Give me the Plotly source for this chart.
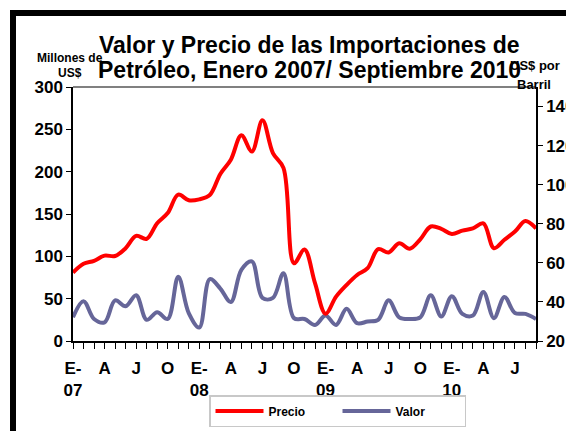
import plotly.graph_objects as go

months = [f"{m}-{y:02d}" for y in range(7, 11) for m in
          ["Ene", "Feb", "Mar", "Abr", "May", "Jun", "Jul", "Ago", "Sep", "Oct", "Nov", "Dic"]][:45]

precio = [55, 59.5, 61, 63.7, 63.5, 67.5, 73.8, 72.3, 80.3, 85.5, 94.9, 92,
          92.5, 94.7, 105.5, 112.8, 125.3, 117, 133, 116.2, 108.6, 59.8, 66.8, 49.6,
          34, 42.7, 48.7, 53.8, 57.3, 67, 65.3, 70, 67.2, 72, 78.6, 77.4,
          74.8, 76.5, 77.6, 80.2, 67.5, 71.8, 76, 81.4, 77.6]

valor = [28, 47, 26, 22, 48, 41, 54, 25, 34, 26, 76, 33,
         16, 73, 62, 46, 84, 94, 51, 51, 80, 27, 26, 19,
         30, 19, 38, 21, 23, 25, 48, 28, 26, 28, 54, 29,
         53, 32, 30, 58, 27, 52, 33, 32, 26]

tick_labels = ["E-<br>07", "A", "J", "O", "E-<br>08", "A", "J", "O",
               "E-<br>09", "A", "J", "O", "E-<br>10", "A", "J"]

ticktext = []
q = 0
for i in range(len(months)):
    if i % 3 == 0 and q < len(tick_labels):
        ticktext.append(tick_labels[q]); q += 1
    else:
        ticktext.append("")

FONT = "Liberation Sans, Arial, sans-serif"
NB = "\u00a0"

fig = go.Figure()
fig.add_trace(go.Scatter(x=months, y=valor, name="Valor", mode="lines",
                         line=dict(color="#666699", width=4, shape="spline", smoothing=1),
                         yaxis="y", legendrank=2))
fig.add_trace(go.Scatter(x=months, y=precio, name="Precio", mode="lines",
                         line=dict(color="#FF0000", width=4, shape="spline", smoothing=1),
                         yaxis="y2", legendrank=1))

OFF = 8  # page body margin
W, H = 574 - OFF, 431 - OFF
# plot area in page pixels
L, R, T, B = 73, 536, 87, 341
pw, ph = R - L, B - T
def px(xp): return (xp - L) / pw
def py(yp): return (B - yp) / ph

fig.update_layout(
    width=W, height=H,
    margin=dict(l=L - OFF, r=W - (R - OFF), t=T - OFF, b=H - (B - OFF), autoexpand=False),
    paper_bgcolor="white", plot_bgcolor="white",
    font=dict(family=FONT, color="black"),
    showlegend=True,
    legend=dict(orientation="h", x=px(209), y=py(395), xanchor="left", yanchor="top",
                bordercolor="#c8c8c8", borderwidth=1.5, bgcolor="white",
                font=dict(size=12, weight="bold", family=FONT),
                itemwidth=48, entrywidth=64, traceorder="normal"),
    xaxis=dict(type="category", range=[0, len(months) - 1], automargin=False,
               tickmode="array", tickvals=months, ticktext=ticktext,
               ticks="outside", ticklen=6, tickwidth=1.2, tickcolor="black",
               showline=True, linecolor="black", linewidth=1.5,
               showgrid=False, zeroline=False,
               tickfont=dict(size=17, weight="bold", family=FONT),
               ticklabelstandoff=5),
    yaxis=dict(range=[0, 300], tickvals=[0, 50, 100, 150, 200, 250, 300], automargin=False,
               ticks="outside", ticklen=5, tickwidth=1.2, tickcolor="black",
               showline=True, linecolor="black", linewidth=1.5,
               showgrid=False, zeroline=False, ticksuffix=NB * 2,
               tickfont=dict(size=17, weight="bold", family=FONT)),
    yaxis2=dict(range=[20, 150], tickvals=[20, 40, 60, 80, 100, 120, 140], automargin=False,
                overlaying="y", side="right", anchor="x",
                ticks="outside", ticklen=5, tickwidth=1.2, tickcolor="black",
                showline=True, linecolor="black", linewidth=1.5,
                showgrid=False, zeroline=False, tickprefix=NB,
                tickfont=dict(size=17, weight="bold", family=FONT)),
    yaxis3=dict(range=[20, 150], tickvals=[20, 40, 60, 80, 100, 120, 140], automargin=False,
                overlaying="y", side="right", anchor="x",
                ticks="inside", ticklen=5, tickwidth=1.2, tickcolor="black",
                showticklabels=False, showline=False, showgrid=False, zeroline=False),
)

# top border of plot area (gray)
fig.add_shape(type="line", xref="paper", yref="paper", x0=0, x1=1, y0=1, y1=1,
              line=dict(color="#808080", width=2))
# outer black frame
fig.add_shape(type="rect", xref="paper", yref="paper",
              x0=px(13), x1=px(700), y0=py(600), y1=py(13),
              line=dict(color="black", width=6), fillcolor="rgba(0,0,0,0)")

title_font = dict(size=23, weight="bold", family=FONT, color="black")
fig.add_annotation(text="Valor y Precio de las Importaciones de", xref="paper", yref="paper",
                   x=px(309), y=py(45), xanchor="center", yanchor="middle",
                   showarrow=False, font=title_font)
fig.add_annotation(text="Petróleo, Enero 2007/ Septiembre 2010", xref="paper", yref="paper",
                   x=px(309), y=py(70), xanchor="center", yanchor="middle",
                   showarrow=False, font=title_font)

lab_font = dict(size=12, weight="bold", family=FONT, color="black")
fig.add_annotation(text="Millones de", xref="paper", yref="paper", x=px(70), y=py(58),
                   xanchor="center", yanchor="middle", showarrow=False, font=lab_font)
fig.add_annotation(text="US$", xref="paper", yref="paper", x=px(70), y=py(73),
                   xanchor="center", yanchor="middle", showarrow=False, font=lab_font)
fig.add_annotation(text="US$ por", xref="paper", yref="paper", x=px(535), y=py(66),
                   xanchor="center", yanchor="middle", showarrow=False, font=dict(lab_font, size=13))
fig.add_annotation(text="Barril", xref="paper", yref="paper", x=px(534), y=py(84),
                   xanchor="center", yanchor="middle", showarrow=False, font=dict(lab_font, size=13))

fig.write_html("out.html")
